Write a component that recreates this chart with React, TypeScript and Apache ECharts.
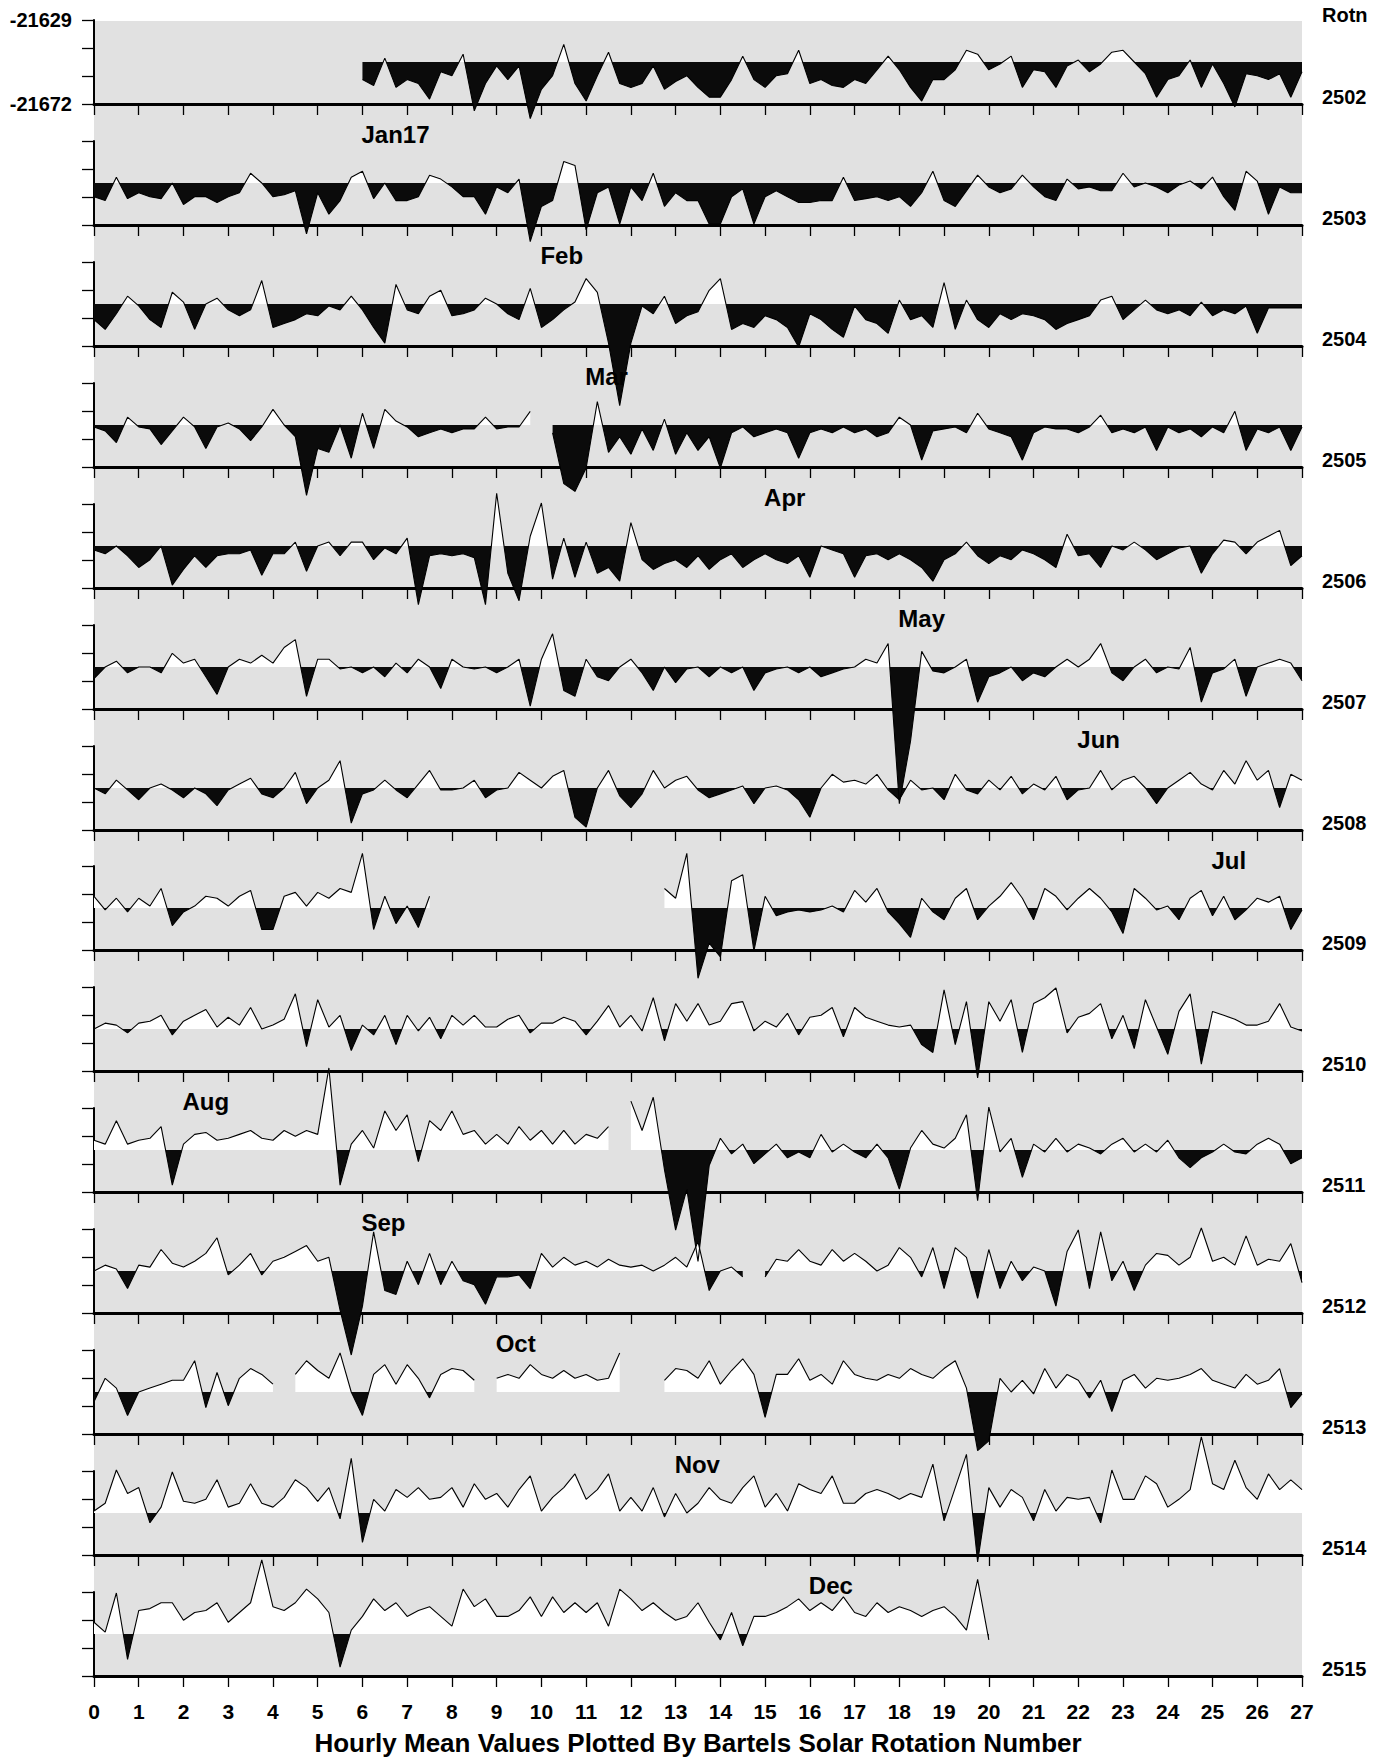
import React, { useEffect, useRef } from "react";
import * as echarts from "echarts";

const _ = null;

// Axis of every panel (nT) and the reference level used for the fill
const AXIS_MIN = -21672;
const AXIS_MAX = -21629;
const REF_LEVEL = -21650.5;

// Rotation numbers (one panel each)
const ROTATIONS = [2502, 2503, 2504, 2505, 2506, 2507, 2508, 2509, 2510, 2511, 2512, 2513, 2514, 2515];

// Day range of the x axis
const DAY_TICKS = [0, 27];

// Values: deviation from REF_LEVEL in nT, sampled every 6 hours (4 per day), day 0 .. day 27
const R2502 = [
  _, _, _, _, _, _, _, _, _, _, _, _, _, _, _, _, _, _, _, _, _, _, _, _,
  -9, -12, 2, -13, -9, -11, -19, -5, -7, 4, -25, -11, -2, -9, -2, -29, -14, -7, 9, -11,
  -20, -7, 5, -11, -13, -11, -2, -14, -10, -7, -13, -18, -18, -9, 3, -9, -13, -7, -6, 6,
  -11, -9, -12, -13, -9, -11, -4, 3, -4, -13, -20, -9, -9, -4, 6, 4, -4, -1, 3, -13,
  -4, -5, -13, -2, 1, -5, -1, 5, 6, 0, -6, -18, -9, -7, 1, -13, -1, -11, -23, -6,
  -7, -9, -6, -18, -5,
];
const R2503 = [
  -7, -9, 3, -8, -5, -7, -8, 0, -11, -7, -7, -10, -7, -5, 5, 0, -7, -6, -4, -26,
  -5, -16, -9, 3, 6, -8, 0, -9, -9, -7, 4, 2, -2, -7, -7, -16, -2, -5, 2, -30,
  -12, -9, 11, 9, -24, -5, -2, -21, -2, -9, 5, -12, -5, -9, -9, -21, -21, -7, -3, -21,
  -7, -4, -7, -10, -10, -9, -9, 3, -9, -8, -7, -9, -7, -12, -5, 6, -9, -12, -4, 4,
  -2, -5, -3, 4, -2, -7, -9, 2, -3, -2, -4, -4, 5, -2, 0, -2, -5, -1, 1, -3,
  3, -7, -14, 6, 1, -16, -2, -5, -5,
];
const R2504 = [
  -8, -13, -5, 4, -1, -8, -12, 6, 1, -13, 0, 3, -3, -6, -3, 12, -12, -10, -8, -5,
  -6, -1, -3, 4, -3, -12, -20, 10, -3, -5, 4, 7, -6, -5, -3, 3, 0, -5, -8, 8,
  -12, -8, -3, 1, 13, 6, -20, -52, -20, -1, -5, 4, -10, -6, -4, 7, 13, -13, -10, -12,
  -6, -8, -12, -22, -5, -8, -13, -17, -1, -8, -10, -15, 2, -8, -6, -12, 11, -13, 2, -8,
  -12, -5, -8, -5, -6, -8, -13, -10, -8, -6, 2, 4, -8, -3, 2, -3, -5, -3, -6, 1,
  -6, -3, -5, -1, -15, -2, -2, -2, -2,
];
const R2505 = [
  -1, -3, -9, 4, -1, -2, -10, -3, 4, -1, -12, -1, 1, -2, -8, -1, 8, 0, -6, -36,
  -12, -14, 0, -17, 6, -12, 8, 2, -1, -6, -4, -2, -4, -2, -2, 4, -2, -1, -1, 7,
  _, -4, -30, -34, -22, 12, -14, -6, -15, -2, -13, 3, -15, -4, -13, -6, -22, -4, -1, -6,
  -4, -2, -4, -17, -4, -2, -4, -1, -4, -2, -6, -4, 4, 0, -18, -3, -2, -1, -4, 6,
  -2, -4, -6, -18, -4, -1, -2, -2, -4, -1, 5, -4, -2, -4, -1, -13, -1, -4, -2, -6,
  -1, -4, 7, -13, -2, -4, -1, -13, -1,
];
const R2506 = [
  -2, -4, 0, -5, -11, -7, 0, -20, -12, -5, -11, -5, -4, -4, -2, -15, -4, -4, 2, -13,
  0, 2, -5, 2, 2, -7, -1, -4, 4, -30, -5, -4, -5, -4, -6, -30, 27, -14, -28, 5,
  22, -17, 4, -16, 2, -14, -11, -18, 12, -7, -12, -9, -7, -11, -5, -12, -7, -4, -11, -7,
  -4, -7, -9, -5, -16, 0, -2, -4, -16, -5, -4, -7, -4, -7, -11, -18, -7, -4, 2, -5,
  -9, -5, -7, -2, -4, -7, -11, 6, -5, -4, -11, 0, -2, 2, -2, -7, -4, -1, 0, -14,
  -4, 3, 2, -4, 2, 5, 8, -10, -5,
];
const R2507 = [
  -6, 0, 3, -3, 0, 0, -3, 7, 2, 4, -5, -14, 0, 4, 2, 6, 2, 10, 14, -15,
  4, 4, -1, 0, -3, 0, -5, 2, -3, 4, 0, -11, 4, 0, -1, 0, -3, 0, 4, -20,
  4, 17, -12, -15, 4, -5, -7, 0, 4, -3, -12, 0, -8, -1, 0, -5, 0, -3, 0, -12,
  -3, -1, 0, -3, 0, -5, -3, -1, 0, 4, 2, 12, -70, -38, 8, -2, -3, 0, 4, -18,
  -5, -3, 0, -7, -3, -5, 0, 4, 0, 4, 12, -3, -7, 0, 4, -3, 0, -1, 10, -18,
  -3, -1, 4, -15, 0, 2, 4, 2, -7,
];
const R2508 = [
  0, -3, 4, -1, -6, 0, 2, -1, -5, 0, -3, -9, -1, 2, 5, -3, -5, 0, 8, -8,
  0, 4, 14, -18, -3, -1, 4, -1, -5, 2, 9, -1, -1, 0, 4, -5, -1, 0, 8, 4,
  0, 6, 9, -15, -20, 0, 9, -4, -10, -3, 9, 0, 4, 6, -1, -5, -3, -1, 1, -8,
  0, 1, -1, -6, -15, 0, 7, 3, 4, 2, 7, -1, -6, 4, -1, 0, -6, 7, -1, -3,
  4, -1, 6, -3, 2, -1, 6, -6, -1, 0, 9, -1, 4, 6, 0, -8, 0, 4, 8, 2,
  -1, 9, 2, 14, 4, 9, -10, 7, 4,
];
const R2509 = [
  6, -1, 5, -2, 5, 1, 10, -9, -2, 1, 6, 5, 1, 6, 9, -11, -11, 6, 8, 1,
  8, 5, 10, 8, 28, -11, 6, -8, 1, -10, 6, _, _, _, _, _, _, _, _, _,
  _, _, _, _, _, _, _, _, _, _, _, 10, 5, 28, -36, -18, -25, 14, 17, -22,
  6, -4, -2, -1, -2, -1, 1, -2, 9, 3, 10, -2, -8, -15, 5, -2, -6, 5, 10, -6,
  1, 6, 13, 5, -6, 10, 6, -1, 5, 10, 5, -2, -13, 10, 5, -1, 1, -6, 5, 9,
  -4, 6, -6, -1, 5, 3, 6, -11, -1,
];
const R2510 = [
  0, 3, 2, -2, 3, 4, 7, -3, 4, 7, 10, 1, 6, 2, 11, 0, 2, 5, 18, -9,
  15, 1, 7, -11, 2, -3, 7, -8, 7, -1, 6, -5, 7, 2, 7, 1, 1, 5, 7, -2,
  3, 3, 6, 4, -3, 4, 12, 1, 7, -1, 16, -6, 13, 4, 13, 2, 4, 13, 14, -1,
  4, 1, 8, -3, 6, 7, 11, -4, 11, 6, 4, 2, 1, 2, -8, -12, 20, -8, 14, -25,
  14, 4, 15, -12, 13, 16, 21, -2, 6, 8, 13, -5, 7, -10, 15, 1, -13, 9, 18, -18,
  9, 7, 5, 2, 2, 4, 13, 1, -1,
];
const R2511 = [
  5, 3, 15, 3, 5, 6, 12, -18, 3, 8, 9, 5, 6, 8, 10, 6, 5, 10, 7, 10,
  8, 42, -18, 3, 10, 1, 20, 10, 18, -6, 15, 10, 20, 8, 10, 3, 8, 3, 12, 5,
  10, 3, 10, 3, 8, 6, 12, _, 25, 10, 27, -10, -41, -20, -57, -8, 6, -2, 3, -7,
  -2, 3, -4, -1, -4, 8, -1, 3, -1, -4, 3, -4, -20, 1, 10, 3, 1, 6, 18, -26,
  22, -1, 6, -14, 3, -1, 6, -1, 3, 1, -2, 3, 6, -1, 3, -1, 5, -4, -9, -4,
  -1, 3, -1, -2, 3, 6, 3, -7, -4,
];
const R2512 = [
  0, 3, 1, -9, 3, 2, 11, 4, 2, 5, 9, 17, -2, 3, 9, -2, 5, 7, 10, 13,
  5, 7, -20, -43, -18, 20, -10, -12, 5, -7, 9, -7, 5, -5, -7, -17, -3, -3, -2, -9,
  9, 2, 7, 3, 5, 2, 6, 3, 2, 3, 0, 3, 7, 2, 15, -10, 0, 2, -3, _,
  -3, 6, 5, 11, 5, 3, 11, 5, 9, 5, 0, 3, 12, 7, -3, 12, -9, 12, 7, -14,
  11, -9, 5, -5, 2, 0, -18, 10, 21, -9, 20, -5, 5, -10, 3, 9, 8, 3, 7, 22,
  5, 7, 3, 18, 3, 6, 5, 14, -6,
];
const R2513 = [
  -5, 7, 2, -12, 0, 2, 4, 6, 6, 16, -8, 10, -7, 7, 12, 9, 4, _, 9, 16,
  11, 7, 20, 0, -12, 9, 14, 4, 14, 7, -3, 9, 12, 11, 6, _, 7, 9, 7, 14,
  9, 7, 11, 7, 9, 6, 7, 20, _, _, _, 6, 12, 11, 7, 16, 4, 11, 17, 9,
  -13, 9, 9, 17, 6, 9, 4, 16, 9, 7, 6, 9, 7, 12, 9, 7, 12, 16, 2, -30,
  -25, 7, 0, 6, -1, 12, 2, 9, 6, -3, 6, -10, 6, 9, 2, 7, 6, 7, 9, 12,
  6, 4, 2, 9, 4, 6, 12, -8, -1,
];
const R2514 = [
  1, 5, 22, 10, 13, -5, 3, 21, 6, 5, 7, 17, 3, 5, 15, 5, 3, 8, 17, 13,
  6, 13, -3, 28, -15, 7, 1, 12, 8, 13, 7, 8, 13, 3, 15, 7, 10, 3, 12, 19,
  1, 8, 13, 20, 7, 12, 20, 1, 8, 1, 13, -2, 10, 0, 5, 13, 7, 5, 13, 19,
  3, 10, 1, 15, 12, 10, 19, 5, 5, 10, 12, 10, 7, 10, 8, 25, -4, 13, 30, -25,
  13, 3, 12, 8, -4, 12, 1, 8, 7, 8, -5, 22, 7, 7, 19, 15, 3, 7, 12, 39,
  15, 12, 27, 13, 7, 20, 12, 17, 12,
];
const R2515 = [
  6, 1, 21, -13, 12, 13, 16, 16, 7, 11, 12, 16, 6, 11, 16, 38, 14, 12, 16, 23,
  18, 11, -17, 2, 9, 18, 12, 16, 9, 12, 14, 9, 4, 23, 14, 18, 9, 9, 12, 19,
  9, 19, 11, 16, 11, 16, 4, 23, 18, 12, 16, 11, 7, 9, 16, 6, -3, 11, -6, 9,
  9, 11, 14, 18, 12, 16, 12, 19, 11, 9, 16, 11, 14, 12, 9, 12, 14, 9, 2, 28,
  -3, _, _, _, _, _, _, _, _, _, _, _, _, _, _, _, _, _, _, _,
  _, _, _, _, _, _, _, _, _,
];

const PANELS = [R2502, R2503, R2504, R2505, R2506, R2507, R2508, R2509, R2510, R2511, R2512, R2513, R2514, R2515];

// Month labels: text, day of rotation, panel index where the month starts
const MONTH_TEXT = ["Jan17", "Feb", "Mar", "Apr", "May", "Jun", "Jul", "Aug", "Sep", "Oct", "Nov", "Dec"];
const MONTH_DAY = [6, 10, 11, 15, 18, 22, 25, 2, 6, 9, 13, 16];
const MONTH_PANEL = [0, 1, 2, 3, 4, 5, 6, 8, 9, 10, 11, 12];

const TITLE = "Hourly Mean Values Plotted By Bartels Solar Rotation Number";

// Layout
const LEFT = 94;
const WIDTH = 1208;
const BASE0 = 104;
const STEP = 120.92;
const PANEL_H = 84;
const FONT = '"Liberation Sans", Arial, Helvetica, sans-serif';

const TICK_NT = (AXIS_MAX - AXIS_MIN) / 3;
const toUnits = (nt: number) => (nt - AXIS_MIN) / TICK_NT;
const baseOf = (i: number) => Math.round(BASE0 + i * STEP);

function buildOption() {
  const n = PANELS.length;
  const grids: any[] = [];
  const xAxes: any[] = [];
  const yAxes: any[] = [];
  const series: any[] = [];
  const graphics: any[] = [];
  const refUnits = toUnits(REF_LEVEL);

  graphics.push({
    type: "rect",
    z: -100,
    shape: { x: LEFT, y: BASE0 - PANEL_H + 1, width: WIDTH, height: baseOf(n - 1) - (BASE0 - PANEL_H + 1) },
    style: { fill: "#e1e1e1" },
    silent: true,
  });

  PANELS.forEach((vals, i) => {
    const base = baseOf(i);
    const top = base - PANEL_H;
    grids.push({ left: LEFT, width: WIDTH, top, height: PANEL_H, containLabel: false });
    xAxes.push({
      gridIndex: i,
      type: "value",
      min: DAY_TICKS[0],
      max: DAY_TICKS[1],
      interval: 1,
      axisLine: { show: true, onZero: false, lineStyle: { color: "#000", width: 3 } },
      axisTick: { show: true, inside: false, length: 11, lineStyle: { color: "#000", width: 1.3 } },
      axisLabel: {
        show: i === n - 1,
        margin: 25,
        color: "#000",
        fontFamily: FONT,
        fontWeight: "bold",
        fontSize: 21,
      },
      splitLine: { show: false },
    });
    yAxes.push({
      gridIndex: i,
      type: "value",
      min: 0,
      max: 3,
      interval: 1,
      axisLine: { show: true, onZero: false, lineStyle: { color: "#000", width: 2 } },
      axisTick: { show: true, inside: false, length: 12, lineStyle: { color: "#000", width: 1.3 } },
      axisLabel: {
        show: i === 0,
        margin: 22,
        color: "#000",
        fontFamily: FONT,
        fontWeight: "bold",
        fontSize: 20,
        formatter: (v: number) => (v === 0 ? String(AXIS_MIN) : v === 3 ? String(AXIS_MAX) : ""),
      },
      splitLine: { show: false },
    });
    const refPx = base - refUnits * (PANEL_H / 3);
    const grad = new echarts.graphic.LinearGradient(
      0,
      refPx - 300,
      0,
      refPx + 300,
      [
        { offset: 0, color: "#ffffff" },
        { offset: 0.5, color: "#ffffff" },
        { offset: 0.5, color: "#0b0b0b" },
        { offset: 1, color: "#0b0b0b" },
      ],
      true
    );
    series.push({
      type: "line",
      xAxisIndex: i,
      yAxisIndex: i,
      data: vals.map((v, k) => [k / 4, v === null ? "-" : toUnits(REF_LEVEL + v)]),
      symbol: "none",
      showSymbol: false,
      clip: false,
      silent: true,
      connectNulls: false,
      lineStyle: { color: "#000", width: 1.1 },
      areaStyle: { origin: refUnits, color: grad, opacity: 1 },
      z: 3,
    });
    graphics.push({
      type: "text",
      x: 1322,
      y: base - 7,
      z: 10,
      style: {
        text: String(ROTATIONS[i]),
        font: `bold 20px ${FONT}`,
        fill: "#000",
        textAlign: "left",
        textVerticalAlign: "middle",
      },
    });
  });

  graphics.push({
    type: "text",
    x: 1322,
    y: 15,
    z: 10,
    style: { text: "Rotn", font: `bold 20px ${FONT}`, fill: "#000", textAlign: "left", textVerticalAlign: "middle" },
  });

  MONTH_TEXT.forEach((m, j) => {
    const base = baseOf(MONTH_PANEL[j]);
    graphics.push({
      type: "text",
      x: LEFT + (MONTH_DAY[j] / 27) * WIDTH - 1,
      y: base + 30,
      z: 10,
      style: { text: m, font: `bold 24px ${FONT}`, fill: "#000", textAlign: "left", textVerticalAlign: "middle" },
    });
  });

  graphics.push({
    type: "text",
    x: LEFT + WIDTH / 2,
    y: 1743,
    z: 10,
    style: { text: TITLE, font: `bold 26px ${FONT}`, fill: "#000", textAlign: "center", textVerticalAlign: "middle" },
  });

  return {
    animation: false,
    backgroundColor: "#ffffff",
    grid: grids,
    xAxis: xAxes,
    yAxis: yAxes,
    series,
    graphic: { elements: graphics },
  };
}

export default function App() {
  const ref = useRef<HTMLDivElement>(null);
  useEffect(() => {
    document.body.style.margin = "0";
    const chart = echarts.init(ref.current as HTMLDivElement, null, { renderer: "svg" });
    chart.setOption(buildOption());
    return () => chart.dispose();
  }, []);
  return (
    <div
      ref={ref}
      style={{ position: "absolute", left: 0, top: 0, width: 1382, height: 1760, background: "#fff" }}
    />
  );
}
